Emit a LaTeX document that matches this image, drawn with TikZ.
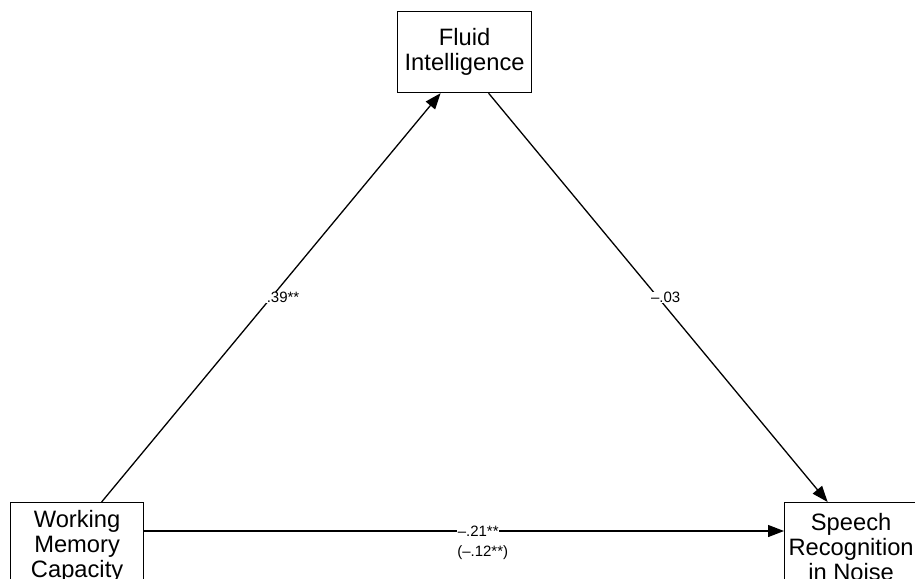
\documentclass[tikz,border=0pt]{standalone}
\usepackage{fontspec}
\setmainfont{Liberation Sans}
\usetikzlibrary{arrows.meta}
\tikzset{
  boxnode/.style={draw, line width=1.2pt, minimum width=133pt, inner sep=0pt, align=center,
    font=\fontsize{23.7}{25}\selectfont, anchor=north west},
  conn/.style={line width=1.3pt, -{Triangle[length=16pt,width=12pt]}},
  lab/.style={font=\fontsize{15}{17}\selectfont, inner sep=0.5pt},
}
\begin{document}
\begin{tikzpicture}[x=1pt,y=-1pt]
\useasboundingbox (0,0) rectangle (915,578);
\clip (0,0) rectangle (915,578);
\fill[white] (0,0) rectangle (915,578);
\node[boxnode, minimum width=134pt, minimum height=81pt] (fi) at (397,11) {Fluid\\Intelligence};
\node[boxnode, minimum height=88pt] (wm) at (10,502) {Working\\Memory\\Capacity};
\node[boxnode, minimum height=88pt] (sr) at (784,502) {Speech\\Recognition\\in Noise};
\draw[conn] ([xshift=24.5pt]wm.north) -- ([xshift=-24pt]fi.south)
  node[lab, pos=0.5, anchor=west, xshift=-5.5pt, fill=white] (l39) {.39**};
\draw[conn] ([xshift=24pt]fi.south) -- ([xshift=-23.5pt]sr.north)
  node[lab, pos=0.5, xshift=7.5pt, fill=white] (l03) {–.03};
\draw[conn] ([yshift=-29pt]wm.north east) -- ([yshift=-29pt]sr.north west)
  node[lab, pos=0.5, anchor=west, xshift=-7.5pt, fill=white] (l21) {–.21**};
\node[lab, anchor=west] (l12) at ([yshift=-22pt]l21.west) {(–.12**)};
\end{tikzpicture}
\end{document}
